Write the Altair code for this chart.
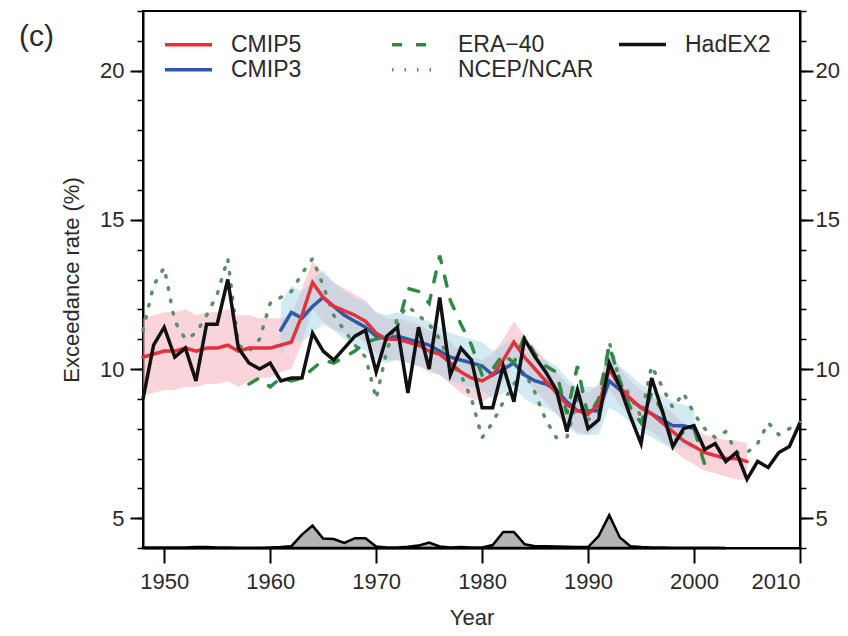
import altair as alt
import pandas as pd

FONT = "Liberation Sans"
TXT = "#2a2a2a"

# ---------------- data ----------------
years_all = list(range(1948, 2011))
hadex2 = [9.0, 10.8,
          11.4, 10.4, 10.7, 9.6, 11.5, 11.5, 13.0, 10.7, 10.2, 10.0,
          10.2, 9.6, 9.7, 9.7, 11.2, 10.6, 10.3, 10.7, 11.1, 11.3,
          9.9, 11.1, 11.4, 9.2, 11.4, 10.0, 12.4, 9.8, 10.7, 10.3,
          8.7, 8.7, 10.1, 8.9, 11.0, 10.4, 9.9, 9.3, 7.9, 9.3,
          8.0, 8.3, 10.2, 9.4, 8.4, 7.5, 9.7, 8.6, 7.4, 8.0,
          8.1, 7.3, 7.5, 6.9, 7.2, 6.3, 6.9, 6.7, 7.2, 7.4,
          8.2]
ncep = [11.3, 12.8,
        13.4, 11.6, 11.0, 11.2, 11.8, 12.5, 13.7, 10.8, 10.6, 11.0,
        12.2, 12.4, 12.6, 13.2, 13.7, 12.8, 11.8, 11.3, 10.8, 10.4,
        9.0, 10.6, 11.7, 12.1, 11.8, 11.5, 11.0, 10.2, 9.8, 9.0,
        7.7, 8.2, 8.9, 9.5, 9.9, 9.2, 8.3, 7.7, 7.7, 9.0,
        8.3, 8.5, 10.9, 9.6, 9.1, 8.4, 10.1, 9.4, 8.7, 9.2,
        8.5, 8.0, 7.7, 7.9, 7.2, 7.2, 7.5, 8.2, 7.8, 8.0,
        8.2]

cmip5_years = list(range(1948, 2006))
cmip5 = [10.4, 10.5,
         10.6, 10.6, 10.7, 10.6, 10.7, 10.7, 10.8, 10.6, 10.7, 10.7,
         10.7, 10.8, 10.9, 11.8, 12.9, 12.4, 12.1, 11.95, 11.8, 11.6,
         11.2, 11.0, 11.0, 10.9, 10.8, 10.6, 10.5, 10.2, 9.9, 9.7,
         9.6, 9.8, 10.3, 10.9, 10.4, 10.0, 9.6, 9.2, 8.8, 8.6,
         8.5, 8.8, 10.0, 9.4, 9.0, 8.7, 8.5, 8.2, 7.9, 7.6,
         7.4, 7.2, 7.1, 7.0, 7.0, 6.9]
cmip5_hi = [11.7, 11.8,
            11.9, 11.9, 12.0, 11.8, 11.9, 11.9, 12.0, 11.8, 11.8, 11.7,
            11.7, 11.7, 11.8, 12.7, 13.6, 13.2, 12.9, 12.7, 12.5, 12.3,
            11.9, 11.7, 11.7, 11.6, 11.5, 11.3, 11.2, 10.9, 10.6, 10.4,
            10.3, 10.5, 11.0, 11.6, 11.1, 10.7, 10.3, 9.9, 9.5, 9.3,
            9.2, 9.5, 10.7, 10.0, 9.6, 9.3, 9.1, 8.8, 8.5, 8.2,
            8.0, 7.8, 7.7, 7.6, 7.6, 7.5]
cmip5_lo = [9.1, 9.2,
            9.3, 9.3, 9.4, 9.4, 9.5, 9.5, 9.6, 9.4, 9.6, 9.7,
            9.7, 9.9, 10.0, 10.9, 12.0, 11.6, 11.3, 11.2, 11.1, 10.9,
            10.5, 10.3, 10.3, 10.2, 10.1, 9.9, 9.8, 9.5, 9.2, 9.0,
            8.9, 9.1, 9.6, 10.2, 9.7, 9.3, 8.9, 8.5, 8.1, 7.9,
            7.8, 8.1, 9.3, 8.8, 8.4, 8.1, 7.9, 7.6, 7.3, 7.0,
            6.8, 6.6, 6.5, 6.4, 6.3, 6.3]

cmip3_years = list(range(1961, 2001))
cmip3 = [11.3, 11.9, 11.7, 12.1, 12.4, 12.1, 11.8, 11.6, 11.4,
         11.1, 11.0, 11.1, 11.0, 10.9, 10.8, 10.6, 10.4, 10.3, 10.2,
         10.1, 9.8, 10.0, 10.2, 9.8, 9.6, 9.5, 9.3, 8.9, 8.6,
         8.6, 8.6, 9.6, 9.3, 9.0, 8.7, 8.5, 8.3, 8.1, 8.1,
         8.0]
cmip3_hi = [12.2, 12.8, 12.6, 13.0, 13.3, 12.9, 12.6, 12.4, 12.2,
            11.9, 11.8, 11.9, 11.8, 11.7, 11.6, 11.4, 11.2, 11.1, 11.0,
            10.9, 10.6, 10.8, 11.0, 10.6, 10.4, 10.3, 10.1, 9.7, 9.4,
            9.4, 9.4, 10.5, 10.1, 9.8, 9.5, 9.3, 9.1, 8.9, 8.8,
            8.7]
cmip3_lo = [10.5, 11.0, 10.9, 11.2, 11.5, 11.3, 11.0, 10.8, 10.6,
            10.3, 10.2, 10.3, 10.2, 10.1, 10.0, 9.8, 9.6, 9.5, 9.4,
            9.3, 9.0, 9.2, 9.4, 9.0, 8.8, 8.7, 8.5, 8.1, 7.8,
            7.8, 7.8, 8.7, 8.5, 8.2, 7.9, 7.7, 7.5, 7.3, 7.4,
            7.3]

era40_years = list(range(1958, 2002))
era40 = [9.5, 9.7,
         9.4, 9.7, 9.6, 9.7, 10.0, 10.3, 10.2, 10.4, 10.6, 10.9,
         11.0, 11.1, 11.4, 12.7, 12.6, 12.2, 13.8, 12.3, 11.5, 10.8,
         9.8, 10.0, 10.5, 10.2, 11.1, 10.5, 10.1, 9.9, 8.5, 10.1,
         8.4, 9.0, 10.8, 9.6, 8.7, 8.2, 9.2, 8.6, 7.5, 7.9,
         8.0, 6.8]

volc_years = list(range(1948, 2004))
volc = [0.02, 0.02,
        0.02, 0.02, 0.02, 0.03, 0.03, 0.02, 0.02, 0.01, 0.01, 0.01,
        0.02, 0.03, 0.06, 0.45, 0.75, 0.32, 0.30, 0.17, 0.33, 0.33,
        0.05, 0.02, 0.02, 0.04, 0.08, 0.18, 0.05, 0.02, 0.03, 0.02,
        0.02, 0.10, 0.54, 0.54, 0.13, 0.06, 0.06, 0.05, 0.04, 0.03,
        0.03, 0.40, 1.10, 0.35, 0.06, 0.03, 0.02, 0.02, 0.01, 0.01,
        0.01, 0.01, 0.01, 0.0]
volc_base = 4

# legend rows: row 1 = CMIP5, ERA-40, HadEX2 ; row 2 = CMIP3, NCEP/NCAR
row1_names = ["CMIP5", "ERA\u221240"]
row1_colors = ["#e2323c", "#2f8a45"]
row1_dash = [[1, 0], [10, 14]]
row2_names = ["CMIP3", "NCEP/NCAR"]
row2_colors = ["#2d5ba6", "#5c8c68"]
row2_dash = [[1, 0], [1.5, 11]]

x_ticks = [1950, 1960, 1970, 1980, 1990, 2000, 2010]
y_major = [5, 10, 15, 20]
y_minor = list(range(4, 23))

# ---------------- tables ----------------
row1_df = pd.concat([
    pd.DataFrame({"year": era40_years, "value": era40, "series": "ERA\u221240"}),
    pd.DataFrame({"year": cmip5_years, "value": cmip5, "series": "CMIP5"}),
], ignore_index=True)
row2_df = pd.concat([
    pd.DataFrame({"year": years_all, "value": ncep, "series": "NCEP/NCAR"}),
    pd.DataFrame({"year": cmip3_years, "value": cmip3, "series": "CMIP3"}),
], ignore_index=True)
had_df = pd.DataFrame({"year": years_all, "value": hadex2, "series": "HadEX2"})
b5_df = pd.DataFrame({"year": cmip5_years, "lo": cmip5_lo, "hi": cmip5_hi})
b3_df = pd.DataFrame({"year": cmip3_years, "lo": cmip3_lo, "hi": cmip3_hi})
v_df = pd.DataFrame({"year": volc_years, "top": [volc_base + v for v in volc]})

# ---------------- scales / axes ----------------
xs = alt.Scale(domain=[1948, 2010], nice=False, zero=False)
ys = alt.Scale(domain=[4, 22], nice=False, zero=False)

x_axis = alt.Axis(values=x_ticks, format="d", tickSize=15, tickWidth=2,
                  tickColor="black", domainColor="black", domainWidth=2,
                  labelFontSize=22, labelFont=FONT, labelColor=TXT, labelPadding=8,
                  title="Year", titleFontSize=22, titleFont=FONT, titleColor=TXT,
                  titleFontWeight="normal", titlePadding=15, grid=False)
X = alt.X("year:Q", scale=xs, axis=x_axis)

def major_axis(orient, title, pad):
    return alt.Axis(orient=orient, values=y_major, tickSize=13, tickWidth=2,
                    tickColor="black", domainColor="black", domainWidth=2,
                    labelFontSize=22, labelFont=FONT, labelColor=TXT, labelPadding=pad,
                    title=title, titleFontSize=22, titleFont=FONT, titleColor=TXT,
                    titleFontWeight="normal", titlePadding=16, grid=False)

def minor_axis(orient):
    return alt.Axis(orient=orient, values=y_minor, tickSize=6, tickWidth=1.5,
                    tickColor="black", labels=False, domain=False, title=None, grid=False)

def legend(x, y):
    return alt.Legend(orient="none", legendX=x, legendY=y, direction="horizontal",
                      title=None, labelFontSize=23, labelFont=FONT, labelColor=TXT,
                      symbolSize=2209, symbolStrokeWidth=3.5, symbolType="stroke",
                      labelOffset=17, columnPadding=83, padding=0)

# ---------------- layers ----------------
band5 = alt.Chart(b5_df).mark_area(color="#f3a9b6", opacity=0.5).encode(
    x=X, y=alt.Y("lo:Q", scale=ys, axis=major_axis("left", "Exceedance rate (%)", 6)),
    y2="hi:Q")
band3 = alt.Chart(b3_df).mark_area(color="#a6d6e6", opacity=0.5).encode(
    x=X, y=alt.Y("lo:Q", scale=ys, axis=minor_axis("left")), y2="hi:Q")
volcano = alt.Chart(v_df).mark_area(color="#b4b4b4", stroke="black", strokeWidth=2.5).encode(
    x=X, y=alt.Y("top:Q", scale=ys, axis=major_axis("right", None, 2)),
    y2=alt.datum(volc_base))

leg2 = legend(20, 33)
lines2 = alt.Chart(row2_df).mark_line(strokeWidth=3.5, strokeCap="round").encode(
    x=X, y=alt.Y("value:Q", scale=ys, axis=None),
    color=alt.Color("series:N", scale=alt.Scale(domain=row2_names, range=row2_colors),
                    legend=leg2),
    strokeDash=alt.StrokeDash("series:N", scale=alt.Scale(domain=row2_names, range=row2_dash),
                              legend=leg2))
leg1 = legend(20, 8)
lines1 = alt.Chart(row1_df).mark_line(strokeWidth=3.5, strokeCap="round").encode(
    x=X, y=alt.Y("value:Q", scale=ys, axis=None),
    color=alt.Color("series:N", scale=alt.Scale(domain=row1_names, range=row1_colors),
                    legend=leg1),
    strokeDash=alt.StrokeDash("series:N", scale=alt.Scale(domain=row1_names, range=row1_dash),
                              legend=leg1))
leg3 = legend(474, 8)
had = alt.Chart(had_df).mark_line(strokeWidth=3.5).encode(
    x=X, y=alt.Y("value:Q", scale=ys, axis=minor_axis("right")),
    color=alt.Color("series:N", scale=alt.Scale(domain=["HadEX2"], range=["#111111"]),
                    legend=leg3))

chart = alt.layer(band5, band3, volcano, lines2, lines1, had).resolve_scale(
    y="shared", color="independent", strokeDash="independent").resolve_axis(
    y="independent").properties(
    width=657, height=537,
    autosize=alt.AutoSizeParams(type="none"),
    padding={"left": 135, "top": 3, "right": 40, "bottom": 80},
    title=alt.TitleParams("(c)", anchor="start", frame="group", dx=-124, dy=42,
                          fontSize=30, fontWeight="normal", font=FONT, color=TXT, offset=0),
).configure_view(stroke="black", strokeWidth=2)

chart.save("out.html", embed_options={"renderer": "svg", "actions": False})
